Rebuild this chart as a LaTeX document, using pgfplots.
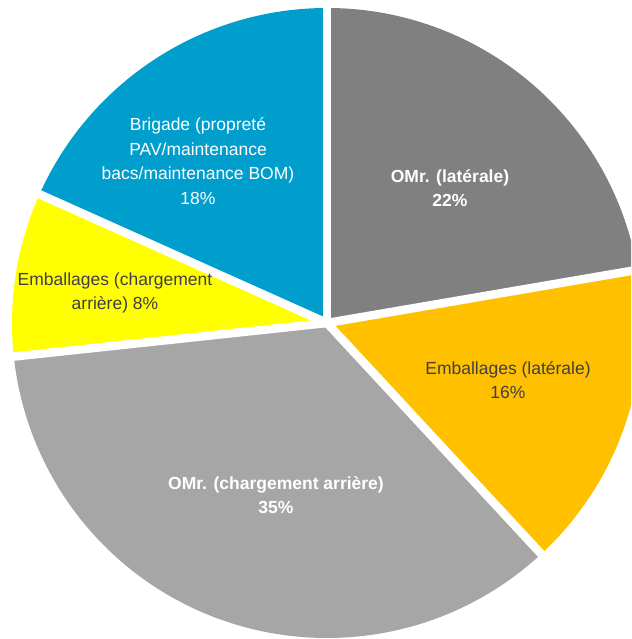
\documentclass[border=0pt]{standalone}
\usepackage{pgfplots}
\pgfplotsset{compat=1.18}
\usepackage{pgfplotstable}
\usepackage{fontspec}
\setmainfont{Liberation Sans}

\definecolor{cGray}{RGB}{128,128,128}
\definecolor{cOrange}{RGB}{255,192,0}
\definecolor{cLight}{RGB}{166,166,166}
\definecolor{cYellow}{RGB}{255,255,0}
\definecolor{cBlue}{RGB}{0,158,204}
\definecolor{cText}{RGB}{64,64,64}

% share of each slice, clockwise from the top
\pgfplotstableread{
name    v
OMrLat  22.3
EmbLat  15.8
OMrArr  35.2
EmbArr  8.4
Brig    18.3
}\piedata

\begin{document}
\begin{tikzpicture}[lbl/.style={align=center, inner sep=0pt, font=\fontsize{17.5pt}{24.5pt}\selectfont}]
% cumulative angles
\pgfmathsetmacro\total{0}
\foreach \i in {0,...,4}{
  \pgfplotstablegetelem{\i}{v}\of\piedata
  \pgfmathsetmacro\tmp{\total+\pgfplotsretval}
  \global\let\total\tmp
}
\pgfmathsetmacro\aA{90}
\pgfplotstablegetelem{0}{v}\of\piedata \pgfmathsetmacro\aB{\aA-360*\pgfplotsretval/\total}
\pgfplotstablegetelem{1}{v}\of\piedata \pgfmathsetmacro\aC{\aB-360*\pgfplotsretval/\total}
\pgfplotstablegetelem{2}{v}\of\piedata \pgfmathsetmacro\aD{\aC-360*\pgfplotsretval/\total}
\pgfplotstablegetelem{3}{v}\of\piedata \pgfmathsetmacro\aE{\aD-360*\pgfplotsretval/\total}
\pgfmathsetmacro\aF{-270}
\def\cx{327}
\def\cy{316}
\def\R{315pt}
\begin{axis}[
    at={(0,0)}, anchor=south west,
    width=631pt, height=639pt, scale only axis,
    xmin=0, xmax=631, ymin=0, ymax=639,
    hide axis, clip=true,
]
\fill[cGray]   (axis cs:\cx,\cy) -- ++(\aA:\R) arc[start angle=\aA, end angle=\aB, radius=\R] -- cycle;
\fill[cOrange] (axis cs:\cx,\cy) -- ++(\aB:\R) arc[start angle=\aB, end angle=\aC, radius=\R] -- cycle;
\fill[cLight]  (axis cs:\cx,\cy) -- ++(\aC:\R) arc[start angle=\aC, end angle=\aD, radius=\R] -- cycle;
\fill[cYellow] (axis cs:\cx,\cy) -- ++(\aD:\R) arc[start angle=\aD, end angle=\aE, radius=\R] -- cycle;
\fill[cBlue]   (axis cs:\cx,\cy) -- ++(\aE:\R) arc[start angle=\aE, end angle=\aF, radius=\R] -- cycle;
% white borders between slices
\draw[white, line width=8.5pt] (axis cs:\cx,\cy) -- ++(\aA:330pt);
\draw[white, line width=8.5pt] (axis cs:\cx,\cy) -- ++(\aB:330pt);
\draw[white, line width=8.5pt] (axis cs:\cx,\cy) -- ++(\aC:330pt);
\draw[white, line width=8.5pt] (axis cs:\cx,\cy) -- ++(\aD:330pt);
\draw[white, line width=8.5pt] (axis cs:\cx,\cy) -- ++(\aE:330pt);

\node[lbl, text=white] at (axis cs:450,451) {\textbf{OMr. (latérale)}\\\textbf{22\%}};
\node[lbl, text=cText] at (axis cs:508,259) {Emballages (latérale)\\16\%};
\node[lbl, text=white] at (axis cs:276,144) {\textbf{OMr. (chargement arrière)}\\\textbf{35\%}};
\node[lbl, text=cText] at (axis cs:115,346) {Emballages (chargement\\arrière) 8\%};
\node[lbl, text=white] at (axis cs:198,478) {Brigade (propreté\\PAV/maintenance\\bacs/maintenance BOM)\\18\%};
\end{axis}
\pgfresetboundingbox
\useasboundingbox (0,0) rectangle (631pt,639pt);
\end{tikzpicture}
\end{document}
